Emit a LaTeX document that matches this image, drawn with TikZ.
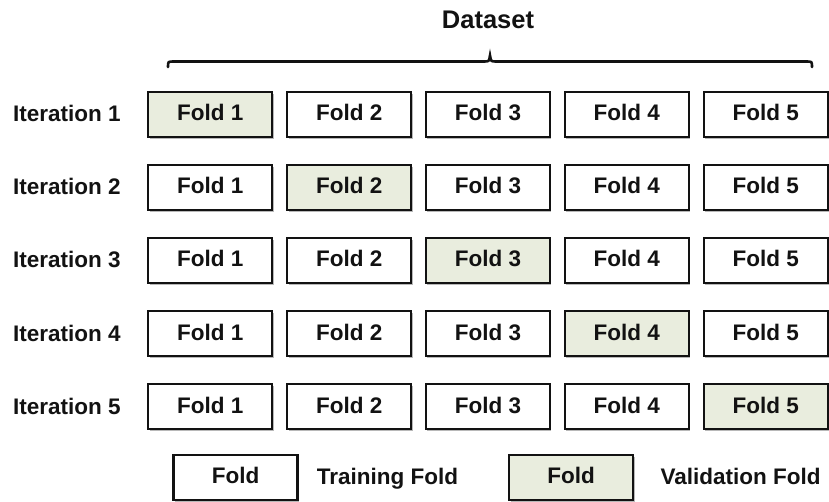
\documentclass[tikz,border=0pt]{standalone}
\usepackage{fontspec}
\setmainfont{Liberation Sans}
\usetikzlibrary{shadows}
\definecolor{valfill}{RGB}{233,237,222}
\definecolor{ink}{RGB}{18,18,18}
\begin{document}
\begin{tikzpicture}[x=1pt,y=-1pt,
  fold/.style={draw=ink, line width=2.3pt, minimum width=124pt, minimum height=45pt,
    inner sep=0pt, text height=16pt, text depth=3pt, fill=white, text=ink,
    font=\fontsize{22.5}{26}\selectfont\bfseries,
    drop shadow={shadow xshift=1.4pt, shadow yshift=-1.6pt, opacity=0.28, fill=black}},
  valfold/.style={fold, fill=valfill},
  lbl/.style={inner sep=0pt, text=ink, font=\fontsize{22.5}{26}\selectfont\bfseries, anchor=base}]
\useasboundingbox (0,0) rectangle (829,502);

% title and brace over the whole dataset
\node[lbl, font=\fontsize{25.5}{29}\selectfont\bfseries] (title) at (488,28.5) {Dataset};
\draw[ink, line width=2.6pt, line cap=round]
  (168,67) .. controls (168,61.5) .. (174,61.5) -- (484,61.5)
  .. controls (489,61.5) .. (490,55.5) .. controls (491,61.5) .. (496,61.5)
  -- (806,61.5) .. controls (812,61.5) .. (812,67);

% one row per iteration, the validation fold on the diagonal
\foreach \r in {1,...,5} {
  \node[lbl, anchor=base west] (it\r) at (13,{114.5+73*(\r-1)+7.5}) {Iteration \r};
  \foreach \c in {1,...,5} {
    \ifnum\r=\c
      \node[valfold] (f\r\c) at ({210.3+138.85*(\c-1)},{114.5+73*(\r-1)}) {Fold \c};
    \else
      \node[fold] (f\r\c) at ({210.3+138.85*(\c-1)},{114.5+73*(\r-1)}) {Fold \c};
    \fi
  }
}

% legend
\node[fold] (legtrain) at (235.5,477.4) {Fold};
\node[lbl] (legtraintxt) at (387.5,484.5) {Training Fold};
\node[valfold] (legval) at (571.2,477.4) {Fold};
\node[lbl] (legvaltxt) at (740.5,484.5) {Validation Fold};
\end{tikzpicture}
\end{document}
